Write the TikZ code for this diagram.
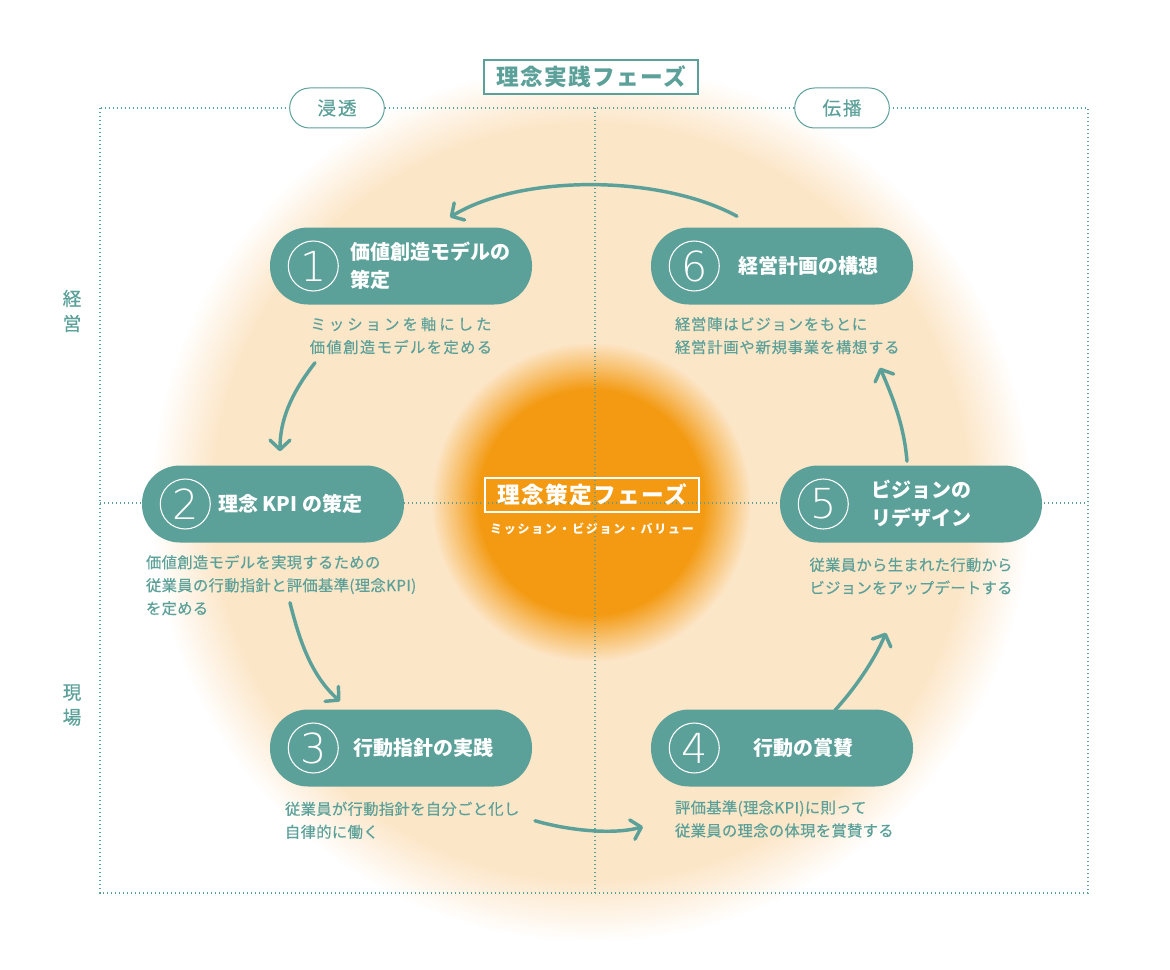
\documentclass[tikz,border=0pt]{standalone}
\usepackage{fontspec}
\setmainfont{Noto Sans CJK JP}
\newfontfamily\numfont{DejaVu Sans ExtraLight}
\usepackage{tikz}
\usetikzlibrary{positioning}
\usetikzlibrary{arrows.meta}
\usepackage{xcolor}

\definecolor{mint}{HTML}{5CA199}
\definecolor{pale}{HTML}{FCE6C8}
\definecolor{core}{HTML}{F39A12}

\pgfdeclareradialshading{glow}{\pgfpoint{0bp}{0bp}}{%
  color(0bp)=(core); color(6.4bp)=(core); color(7.7bp)=(core!50!pale);
  color(9.1bp)=(pale); color(21.5bp)=(pale); color(25bp)=(white); color(50bp)=(white)}

\tikzset{
  dotline/.style={mint, line width=1pt, dash pattern=on 1pt off 2pt},
  stepbox/.style={fill=mint, rounded corners=28.5pt, minimum width=196.5pt,
    minimum height=57.75pt, inner sep=0pt},
  numring/.style={circle, draw=white, line width=0.8pt, minimum size=37.5pt,
    inner sep=0pt, text=white, font=\numfont\fontsize{31}{31}\selectfont},
  steptitle/.style={text=white, align=left, inner sep=0pt,
    font=\bfseries\fontsize{15}{21}\selectfont},
  note/.style={text=mint, inner sep=0pt,
    font=\fontsize{11.5}{17.25}\selectfont\addfontfeatures{LetterSpace=2, FakeBold=0.4}},
  tagpill/.style={draw=mint, fill=white, line width=0.75pt, rounded corners=15pt,
    minimum width=71pt, minimum height=30pt, text=mint,
    font=\fontsize{14}{14}\selectfont\addfontfeatures{LetterSpace=10, FakeBold=0.4}},
  sidelabel/.style={text=mint, align=center,
    font=\fontsize{14}{18.75}\selectfont\addfontfeature{FakeBold=0.4}},
  flow/.style={draw=mint, line width=2.6pt, line cap=round,
    -{Straight Barb[length=7pt, width=15pt, round]}},
}

\begin{document}
\begin{tikzpicture}[x=0.75pt, y=-0.75pt]
  \useasboundingbox (0,0) rectangle (1170,970);
  \fill[white] (0,0) rectangle (1170,970);
  \shade[shading=glow] (591,502) circle (440);

  % frame
  \draw[dotline] (100,108) rectangle (1088,893);
  \draw[dotline] (595,108) -- (595,893);
  \draw[dotline] (100,503) -- (1088,503);

  % headings
  \node (practice) [draw=mint, fill=white, line width=1.5pt, text=mint, inner sep=0pt,
    minimum width=161pt, minimum height=26pt,
    font=\bfseries\fontsize{17}{17}\selectfont\addfontfeature{LetterSpace=6}]
    at (591,77) {理念実践フェーズ};
  \node (shinto) [tagpill] at (337,108) {浸透};
  \node (denpa) [tagpill] at (842,108) {伝播};
  \node (keiei) [sidelabel] at (72,311) {経\\営};
  \node (genba) [sidelabel] at (72,705) {現\\場};

  % centre
  \node (policy) [draw=white, line width=1.5pt, text=white, inner sep=0pt,
    minimum width=161pt, minimum height=26pt,
    font=\bfseries\fontsize{17}{17}\selectfont\addfontfeature{LetterSpace=6}]
    at (592,495) {理念策定フェーズ};
  \node (mvv) [below=7pt of policy, text=white, inner sep=0pt,
    font=\bfseries\fontsize{9}{9}\selectfont\addfontfeature{LetterSpace=14}]
    {ミッション・ビジョン・バリュー};

  % steps
  \node (s1) [stepbox] at (401,266) {};
  \node (s6) [stepbox] at (782,266) {};
  \node (s2) [stepbox] at (273,504) {};
  \node (s5) [stepbox] at (911,504) {};
  \node (s3) [stepbox] at (401,748) {};
  \node (s4) [stepbox] at (782,748) {};

  \node (c1) [numring, right=13.5pt of s1.west] {1};
  \node (c6) [numring, right=13.5pt of s6.west] {6};
  \node (c2) [numring, right=13.5pt of s2.west] {2};
  \node (c5) [numring, right=13.5pt of s5.west] {5};
  \node (c3) [numring, right=13.5pt of s3.west] {3};
  \node (c4) [numring, right=13.5pt of s4.west] {4};

  \node (t1) [steptitle, right=8.25pt of c1] {価値創造モデルの\\策定};
  \node (t6) [steptitle, right=13.5pt of c6] {経営計画の構想};
  \node (t2) [steptitle, right=5.25pt of c2] {理念 KPI の策定};
  \node (t5) [steptitle, right=16.5pt of c5] {ビジョンの\\リデザイン};
  \node (t3) [steptitle, right=10.5pt of c3] {行動指針の実践};
  \node (t4) [steptitle, right=24.75pt of c4] {行動の賞賛};

  % notes
  \node (d1) [note, align=center, below=9pt of s1]
    {{\addfontfeature{LetterSpace=20}ミッションを軸にした}\\
     {\addfontfeature{LetterSpace=9}価値創造モデルを定める}};
  \node (d6) [note, align=left, below right=9pt and 18pt of s6.south west]
    {{\addfontfeature{LetterSpace=5}経営陣はビジョンをもとに}\\
     {\addfontfeature{LetterSpace=5}経営計画や新規事業を構想する}};
  \node (d2) [note, align=left, below right=9pt and 3pt of s2.south west]
    {価値創造モデルを実現するための\\従業員の行動指針と評価基準(理念KPI)\\を定める};
  \node (d5) [note, align=center, below=11pt of s5]
    {従業員から生まれた行動から\\ビジョンをアップデートする};
  \node (d3) [note, align=left, below right=11pt and 11.25pt of s3.south west]
    {従業員が行動指針を自分ごと化し\\自律的に働く};
  \node (d4) [note, align=left, below right=10pt and 18pt of s4.south west]
    {評価基準(理念KPI)に則って\\従業員の理念の体現を賞賛する};

  % cycle
  \draw[flow] ([shift={(-45,-11)}]s6.north) .. controls +(-77,-42) and +(70,-43) .. ([shift={(49,-10)}]s1.north);
  \draw[flow] ([shift={(-86,58)}]s1.south) .. controls +(-25,32) and +(0,-30) .. ([shift={(7,-14)}]s2.north);
  \draw[flow] ([shift={(17,60)}]s2.south) .. controls +(10,40) and +(-28,-25) .. ([shift={(-61,-8)}]s3.north);
  \draw[flow] ([shift={(134,34)}]s3.south) .. controls +(35,10) and +(-30,8) .. ([shift={(-139,40)}]s4.south);
  \draw[flow] ([shift={(53,1)}]s4.north) .. controls +(20,-22) and +(-12,28) .. ([shift={(-25,90)}]s5.south);
  \draw[flow] ([shift={(-4,-4)}]s5.north) .. controls +(-3,-37) and +(12,28) .. ([shift={(98,63)}]s6.south);
\end{tikzpicture}
\end{document}
